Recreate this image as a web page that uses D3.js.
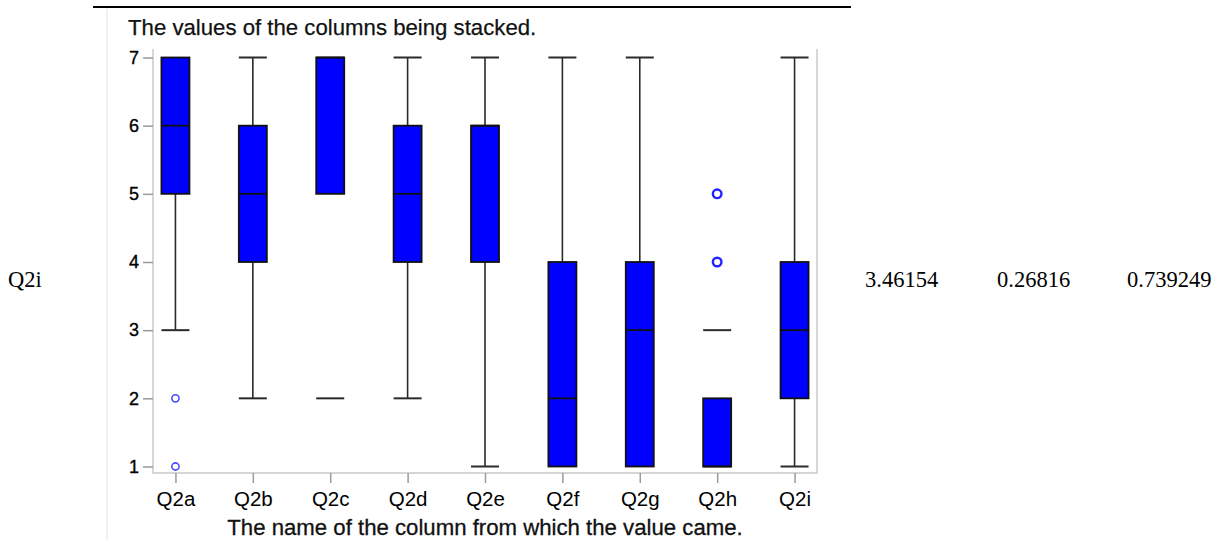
<!DOCTYPE html>
<html><head><meta charset="utf-8">
<script src="https://cdn.jsdelivr.net/npm/d3@7"></script>
<style>body{margin:0;background:#fff;} svg{display:block;}</style>
</head><body><svg id="c" width="1228" height="540"></svg>
<script>
const categories  = ["Q2a","Q2b","Q2c","Q2d","Q2e","Q2f","Q2g","Q2h","Q2i"];
const q1          = [5,4,5,4,4,1,1,1,2];
const medians     = [6,5,7,5,6,2,3,1,3];
const q3          = [7,6,7,6,6,4,4,2,4];
const whiskerLow  = [3,2,5,2,1,1,1,1,1];
const whiskerHigh = [7,7,7,7,7,7,7,2,7];
const loneLines   = [null,null,2,null,null,null,null,3,null];
const outliers    = [[2,1],[],[],[],[],[],[],[5,4],[]];
const yTicks      = [1,2,3,4,5,6,7];
const titleText   = "The values of the columns being stacked.";
const xLabelText  = "The name of the column from which the value came.";
const sideLabel   = "Q2i";
const sideValues  = ["3.46154","0.26816","0.739249"];

const svg = d3.select("#c");
const SANS = "'Liberation Sans', Arial, sans-serif";
const SERIF = "'Liberation Serif', 'Times New Roman', serif";

const frame = {left:153, right:817, top:49, bottom:473};
const y = d3.scaleLinear().domain([1,7]).range([466.5,57.5]);
const x = d3.scalePoint().domain(categories).range([frame.left, frame.right]).padding(0.29);

// page decorations
svg.append("line").attr("x1",93).attr("x2",851).attr("y1",7).attr("y2",7)
  .attr("stroke","#000").attr("stroke-width",2);
svg.append("line").attr("x1",107).attr("x2",107).attr("y1",9).attr("y2",540)
  .attr("stroke","#eef0f7").attr("stroke-width",2);

// frame
const fg = svg.append("g").attr("stroke","#d6d6d6").attr("stroke-width",2).attr("fill","none");
fg.append("path").attr("d",`M${frame.left},${frame.top}V${frame.bottom}H${frame.right}V${frame.top}`);

// title
svg.append("text").attr("x",128).attr("y",35).attr("font-family",SANS).attr("font-size",22.2)
  .attr("fill","#111").attr("stroke","#111").attr("stroke-width",0.25).text(titleText);

// y axis
const ya = svg.append("g").attr("transform",`translate(${frame.left},0)`)
  .call(d3.axisLeft(y).tickValues(yTicks).tickFormat(d3.format("d")).tickSize(10).tickPadding(4));
ya.select(".domain").remove();
ya.selectAll(".tick line").attr("stroke","#9a9a9a").attr("stroke-width",1.5);
ya.selectAll(".tick text").attr("font-family",SANS).attr("font-size",18).attr("fill","#000")
  .attr("stroke","#000").attr("stroke-width",0.35);

// x axis
const xa = svg.append("g").attr("transform",`translate(0,${frame.bottom})`)
  .call(d3.axisBottom(x).tickSize(10));
xa.select(".domain").remove();
xa.selectAll(".tick line").attr("stroke","#9a9a9a").attr("stroke-width",1.5);
xa.selectAll(".tick text").attr("font-family",SANS).attr("font-size",20.5).attr("fill","#000")
  .attr("y",33).attr("dy",null);

svg.append("text").attr("x",485).attr("y",535).attr("text-anchor","middle")
  .attr("font-family",SANS).attr("font-size",22.2).attr("fill","#111")
  .attr("stroke","#111").attr("stroke-width",0.3).text(xLabelText);

// boxes
const BW = 28;
const g = svg.append("g");
categories.forEach((c,i) => {
  const cx = x(c);
  const wl = g.append("g").attr("stroke","#2a2a2a").attr("stroke-width",1.6);
  if (whiskerHigh[i] > q3[i]) {
    wl.append("line").attr("x1",cx).attr("x2",cx).attr("y1",y(q3[i])).attr("y2",y(whiskerHigh[i]));
    wl.append("line").attr("x1",cx-BW/2).attr("x2",cx+BW/2).attr("y1",y(whiskerHigh[i])).attr("y2",y(whiskerHigh[i])).attr("stroke-width",2);
  }
  if (whiskerLow[i] < q1[i]) {
    wl.append("line").attr("x1",cx).attr("x2",cx).attr("y1",y(q1[i])).attr("y2",y(whiskerLow[i]));
    wl.append("line").attr("x1",cx-BW/2).attr("x2",cx+BW/2).attr("y1",y(whiskerLow[i])).attr("y2",y(whiskerLow[i])).attr("stroke-width",2);
  }
  if (loneLines[i] !== null) {
    wl.append("line").attr("x1",cx-BW/2).attr("x2",cx+BW/2).attr("y1",y(loneLines[i])).attr("y2",y(loneLines[i])).attr("stroke-width",2);
  }
  g.append("rect").attr("x",cx-BW/2).attr("width",BW)
    .attr("y",y(q3[i])).attr("height",y(q1[i])-y(q3[i]))
    .attr("fill","#0000ff").attr("stroke","#111").attr("stroke-width",1.8);
  g.append("line").attr("x1",cx-BW/2).attr("x2",cx+BW/2).attr("y1",y(medians[i])).attr("y2",y(medians[i]))
    .attr("stroke","#111").attr("stroke-width",1.8);
  outliers[i].forEach(v => {
    g.append("circle").attr("cx",cx).attr("cy",y(v)).attr("r",i===0?3.6:4.3)
      .attr("fill","none").attr("stroke",i===0?"#4a4aff":"#2222ff").attr("stroke-width",i===0?1.6:2.4);
  });
});

// side texts
svg.append("text").attr("x",8).attr("y",287).attr("font-family",SERIF).attr("font-size",22.5)
  .attr("fill","#000").text(sideLabel);
const sideX = [865, 997, 1127];
sideValues.forEach((t,i) => {
  svg.append("text").attr("x",sideX[i]).attr("y",287).attr("font-family",SERIF).attr("font-size",22.5)
    .attr("fill","#000").text(t);
});
</script>
</body></html>
